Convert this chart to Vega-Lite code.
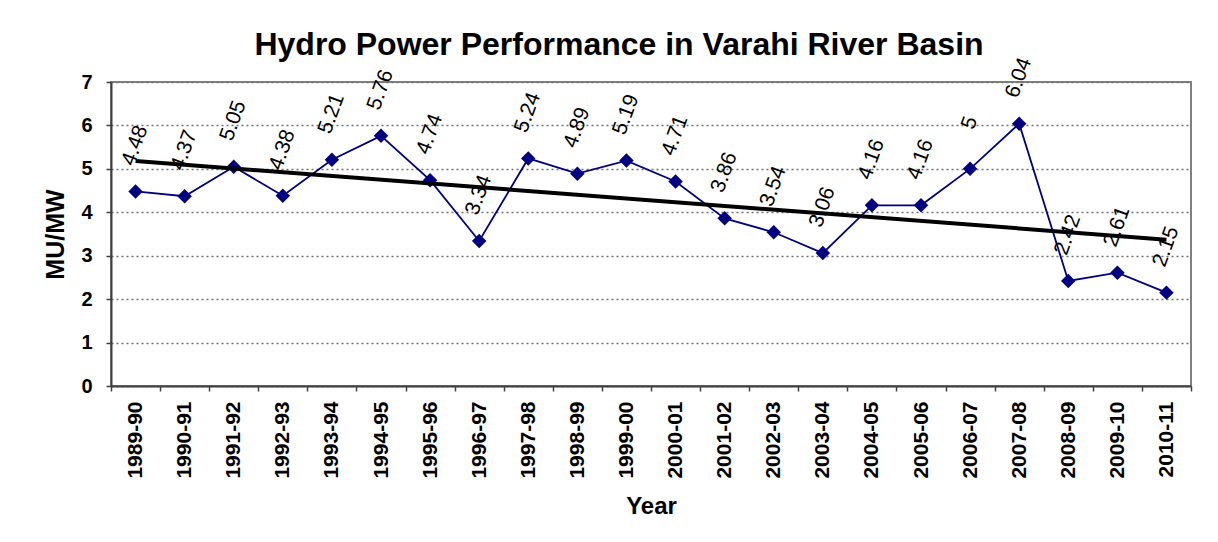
{
  "$schema": "https://vega.github.io/schema/vega-lite/v6.json",
  "width": 1080,
  "height": 304,
  "autosize": {"type": "none"},
  "padding": {"left": 111, "top": 82, "right": 27, "bottom": 156},
  "background": "white",
  "config": {
    "font": "Liberation Sans",
    "view": {"stroke": "#808080", "strokeWidth": 2}
  },
  "title": {
    "text": "Hydro Power Performance in Varahi River Basin",
    "font": "Liberation Sans",
    "fontSize": 32,
    "fontWeight": "bold",
    "color": "black",
    "anchor": "middle",
    "dx": -32,
    "baseline": "bottom",
    "offset": -39
  },
  "data": {
    "values": [
      {"year": "1989-90", "value": 4.48, "trend": 5.18},
      {"year": "1990-91", "value": 4.37},
      {"year": "1991-92", "value": 5.05},
      {"year": "1992-93", "value": 4.38},
      {"year": "1993-94", "value": 5.21},
      {"year": "1994-95", "value": 5.76},
      {"year": "1995-96", "value": 4.74},
      {"year": "1996-97", "value": 3.34},
      {"year": "1997-98", "value": 5.24},
      {"year": "1998-99", "value": 4.89},
      {"year": "1999-00", "value": 5.19},
      {"year": "2000-01", "value": 4.71},
      {"year": "2001-02", "value": 3.86},
      {"year": "2002-03", "value": 3.54},
      {"year": "2003-04", "value": 3.06},
      {"year": "2004-05", "value": 4.16},
      {"year": "2005-06", "value": 4.16},
      {"year": "2006-07", "value": 5},
      {"year": "2007-08", "value": 6.04},
      {"year": "2008-09", "value": 2.42},
      {"year": "2009-10", "value": 2.61},
      {"year": "2010-11", "value": 2.15, "trend": 3.37}
    ]
  },
  "encoding": {
    "x": {
      "field": "year",
      "type": "ordinal",
      "sort": null,
      "scale": {"paddingInner": 0, "paddingOuter": 0},
      "axis": {
        "title": "Year",
        "titleFont": "Liberation Sans",
        "titleFontSize": 24,
        "titleFontWeight": "bold",
        "titleColor": "black",
        "titlePadding": 16,
        "labelAngle": -90,
        "labelFont": "Liberation Sans",
        "labelFontSize": 21,
        "labelFontWeight": "bold",
        "labelColor": "black",
        "labelPadding": 10,
        "tickSize": 5,
        "tickColor": "#404040",
        "tickWidth": 1.5,
        "tickBand": "extent",
        "domainColor": "#404040",
        "domainWidth": 2,
        "grid": false
      }
    }
  },
  "layer": [
    {
      "mark": {
        "type": "line",
        "color": "#000080",
        "strokeWidth": 1.8,
        "point": {"shape": "diamond", "filled": true, "size": 210, "color": "#000080"}
      },
      "encoding": {
        "y": {
          "field": "value",
          "type": "quantitative",
          "scale": {"domain": [0, 7], "nice": false},
          "axis": {
            "title": "MU/MW",
            "titleFont": "Liberation Sans",
            "titleFontSize": 25,
            "titleFontWeight": "bold",
            "titleColor": "black",
            "titlePadding": 12,
            "values": [0, 1, 2, 3, 4, 5, 6, 7],
            "labelFont": "Liberation Sans",
            "labelFontSize": 20,
            "labelFontWeight": "bold",
            "labelColor": "black",
            "labelPadding": 14,
            "tickSize": 5,
            "tickColor": "#404040",
            "tickWidth": 1.5,
            "domainColor": "#404040",
            "domainWidth": 2,
            "grid": true,
            "gridColor": "#707070",
            "gridDash": [2, 3],
            "gridWidth": 1.5
          }
        }
      }
    },
    {
      "mark": {
        "type": "text",
        "angle": -70,
        "align": "center",
        "baseline": "middle",
        "dx": 43,
        "dy": -16,
        "font": "Liberation Sans",
        "fontSize": 21,
        "color": "black"
      },
      "encoding": {
        "y": {"field": "value", "type": "quantitative"},
        "text": {"field": "value", "type": "quantitative"}
      }
    },
    {
      "transform": [{"filter": "isValid(datum.trend)"}],
      "mark": {"type": "line", "color": "black", "strokeWidth": 4},
      "encoding": {
        "y": {"field": "trend", "type": "quantitative"}
      }
    }
  ]
}
